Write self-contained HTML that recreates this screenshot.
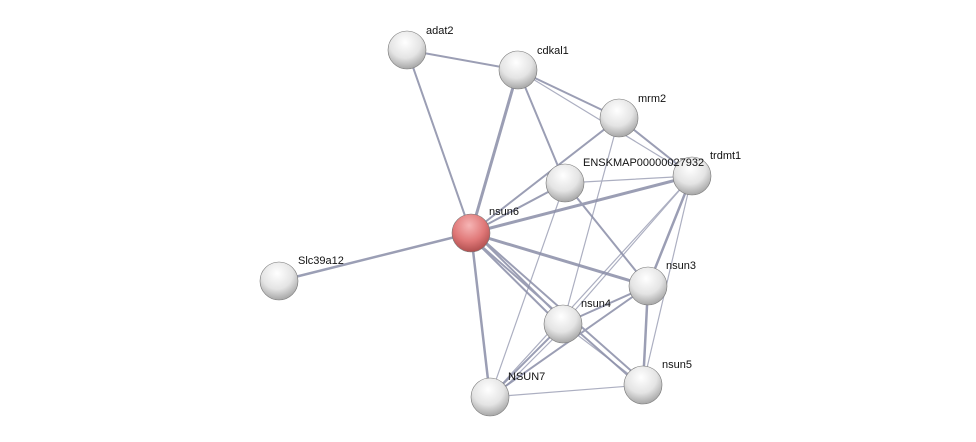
<!DOCTYPE html>
<html><head><style>
html,body{margin:0;padding:0;background:#fff;}
svg{display:block}
text{font-family:"Liberation Sans",sans-serif;font-size:11px;fill:#111;}
</style></head><body>
<svg width="976" height="442" viewBox="0 0 976 442">
<defs>
<radialGradient id="g" cx="0.45" cy="0.3" r="0.75">
<stop offset="0" stop-color="#ffffff"/><stop offset="0.55" stop-color="#e4e4e4"/><stop offset="1" stop-color="#9c9c9c"/>
</radialGradient>
<radialGradient id="r" cx="0.45" cy="0.3" r="0.75">
<stop offset="0" stop-color="#f6b5b5"/><stop offset="0.55" stop-color="#e07878"/><stop offset="1" stop-color="#a84848"/>
</radialGradient>
</defs>
<g stroke="#8a8ea8" fill="none" stroke-linecap="round">
<g stroke-width="2" opacity="0.85">
<line x1="407" y1="50" x2="518" y2="70"/>
<line x1="407" y1="50" x2="471" y2="233"/>
<line x1="518" y1="70" x2="471" y2="233" stroke-width="3"/>
<line x1="518" y1="70" x2="619" y2="118"/>
<line x1="518" y1="70" x2="565" y2="183"/>
<line x1="619" y1="118" x2="471" y2="233"/>
<line x1="619" y1="118" x2="692" y2="176"/>
<line x1="565" y1="183" x2="471" y2="233"/>
<line x1="565" y1="183" x2="648" y2="286"/>
<line x1="471" y1="233" x2="692" y2="176" stroke-width="3"/>
<line x1="471" y1="233" x2="279" y2="281" stroke-width="2.5"/>
<line x1="471" y1="233" x2="648" y2="286" stroke-width="3"/>
<line x1="469" y1="235" x2="561" y2="326"/>
<line x1="473" y1="231" x2="565" y2="322"/>
<line x1="469" y1="235" x2="641" y2="387"/>
<line x1="473" y1="231" x2="645" y2="383"/>
<line x1="471" y1="233" x2="490" y2="397" stroke-width="2.5"/>
<line x1="692" y1="176" x2="648" y2="286" stroke-width="2.5"/>
<line x1="648" y1="286" x2="563" y2="324"/>
<line x1="648" y1="286" x2="643" y2="385" stroke-width="2.5"/>
<line x1="648" y1="286" x2="490" y2="397"/>
<line x1="563" y1="324" x2="490" y2="397"/>
</g>
<g stroke-width="1.2" opacity="0.7">
<line x1="518" y1="70" x2="692" y2="176"/>
<line x1="619" y1="118" x2="563" y2="324"/>
<line x1="565" y1="183" x2="692" y2="176"/>
<line x1="565" y1="183" x2="490" y2="397"/>
<line x1="692" y1="176" x2="563" y2="324"/>
<line x1="692" y1="176" x2="643" y2="385"/>
<line x1="692" y1="176" x2="490" y2="397"/>
<line x1="563" y1="324" x2="643" y2="385"/>
<line x1="490" y1="397" x2="643" y2="385"/>
<line x1="493" y1="399" x2="566" y2="326"/>
</g>
</g>
<g stroke="#777" stroke-width="0.6">
<circle cx="407" cy="50" r="19" fill="url(#g)"/>
<circle cx="518" cy="70" r="19" fill="url(#g)"/>
<circle cx="619" cy="118" r="19" fill="url(#g)"/>
<circle cx="565" cy="183" r="19" fill="url(#g)"/>
<circle cx="692" cy="176" r="19" fill="url(#g)"/>
<circle cx="471" cy="233" r="19" fill="url(#r)"/>
<circle cx="279" cy="281" r="19" fill="url(#g)"/>
<circle cx="648" cy="286" r="19" fill="url(#g)"/>
<circle cx="563" cy="324" r="19" fill="url(#g)"/>
<circle cx="643" cy="385" r="19" fill="url(#g)"/>
<circle cx="490" cy="397" r="19" fill="url(#g)"/>
</g>
<text x="426" y="34">adat2</text>
<text x="537" y="54">cdkal1</text>
<text x="638" y="102">mrm2</text>
<text x="710" y="159">trdmt1</text>
<text x="583" y="166">ENSKMAP00000027932</text>
<text x="489" y="215">nsun6</text>
<text x="298" y="264">Slc39a12</text>
<text x="666" y="269">nsun3</text>
<text x="581" y="307">nsun4</text>
<text x="662" y="368">nsun5</text>
<text x="508" y="380">NSUN7</text>
</svg>
</body></html>
